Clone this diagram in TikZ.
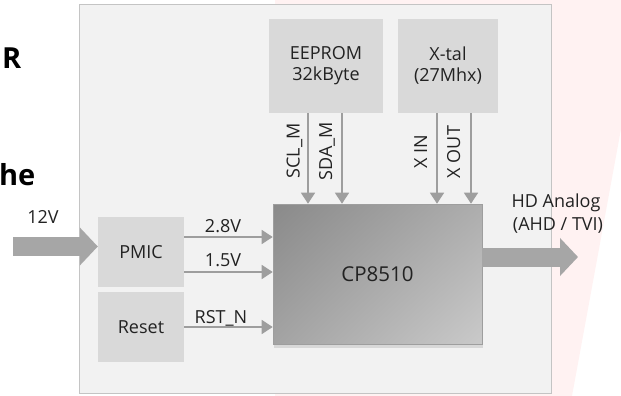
\documentclass[tikz,border=0pt]{standalone}
\usepackage{fontspec}
\setmainfont{Open Sans}
\usetikzlibrary{arrows.meta,shadows,shadings,calc}
\definecolor{pinkbg}{HTML}{FFF2F2}
\definecolor{boardfill}{HTML}{F2F2F2}
\definecolor{boardline}{HTML}{C4C4C4}
\definecolor{boxfill}{HTML}{D9D9D9}
\definecolor{arrowgray}{HTML}{A6A6A6}
\definecolor{linegray}{HTML}{9E9E9E}
\definecolor{txt}{HTML}{222222}
\tikzset{
  lbl/.style={font=\fontsize{18}{21}\selectfont, text=txt, inner sep=0pt},
  bigtxt/.style={font=\bfseries\fontsize{29}{34}\selectfont, text=black, inner sep=0pt},
  blockbox/.style={fill=boxfill, draw=none, inner sep=0pt, align=center,
    font=\fontsize{18}{21}\selectfont, text=txt},
  sig/.style={draw=linegray, line width=1.5pt, -{Triangle[length=11pt,width=14pt]}},
  fat/.style={draw=arrowgray, line width=19pt, -{Triangle[length=18pt,width=37pt]}},
}
\begin{document}
\begin{tikzpicture}[x=1pt,y=-1pt]
\useasboundingbox (0,0) rectangle (621,396);
\fill[pinkbg] (275,0) -- (621,0) -- (621,129) -- (572,396) -- (275,396) -- cycle;
% partial slide text
\node[bigtxt, anchor=base west] (tR) at (2,69) {R};
\node[bigtxt, anchor=base east] (the) at (35.5,185) {he};
% board
\node[fill=boardfill, draw=boardline, line width=1pt, minimum width=472, minimum height=389, inner sep=0pt, anchor=north west] (board) at (79,4) {};
% top boxes
\node[blockbox, minimum width=114, minimum height=94] (eeprom) at (326,66) {EEPROM\\32kByte};
\node[blockbox, minimum width=100, minimum height=94] (xtal) at (448,66) {X-tal\\(27Mhx)};
% left boxes
\node[blockbox, minimum width=86, minimum height=70] (pmic) at (141,252) {PMIC};
\node[blockbox, minimum width=86, minimum height=70] (reset) at (141,327) {Reset};
% main chip
\node[minimum width=209, minimum height=140, inner sep=0pt, draw=linegray, line width=0.6pt,
  upper left=black!46, upper right=black!32, lower left=black!36, lower right=black!21,
  drop shadow={shadow xshift=1pt, shadow yshift=-4pt, opacity=0.22},
  font=\fontsize{20.5}{24}\selectfont, text=txt] (cp) at (377.5,274) {CP8510};
% signal arrows from top
\draw[sig] (eeprom.south -| 308,0) -- (cp.north -| 308,0);
\draw[sig] (eeprom.south -| 342,0) -- (cp.north -| 342,0);
\draw[sig] (xtal.south -| 437,0) -- (cp.north -| 437,0);
\draw[sig] (xtal.south -| 471,0) -- (cp.north -| 471,0);
\node[lbl, rotate=90, anchor=mid] (lscl) at (297,151) {SCL\_M};
\node[lbl, rotate=90, anchor=mid] (lsda) at (329.5,151) {SDA\_M};
\node[lbl, rotate=90, anchor=mid] (lxin) at (424.5,152) {X IN};
\node[lbl, rotate=90, anchor=mid] (lxout) at (457.5,152) {X OUT};
% left signals
\draw[sig] (pmic.east |- 0,237) -- (cp.west |- 0,237);
\draw[sig] (pmic.east |- 0,272) -- (cp.west |- 0,272);
\draw[sig] (reset.east |- 0,327) -- (cp.west |- 0,327);
\node[lbl, anchor=base] (l28) at (223,232) {2.8V};
\node[lbl, anchor=base] (l15) at (223,266) {1.5V};
\node[lbl, anchor=base] (lrst) at (221,323) {RST\_N};
% power in
\coordinate (pin) at (13,246.5);
\draw[fat] (pin) -- (pin -| pmic.west);
\node[lbl, anchor=base] (l12) at (43,223) {12V};
% output
\coordinate (hdout) at (578,257);
\draw[fat] (hdout -| cp.east) -- (hdout);
\node[lbl, anchor=base] (lhd1) at (556,207) {HD Analog};
\node[lbl, anchor=base] (lhd2) at (558,230) {(AHD / TVI)};
\end{tikzpicture}
\end{document}
